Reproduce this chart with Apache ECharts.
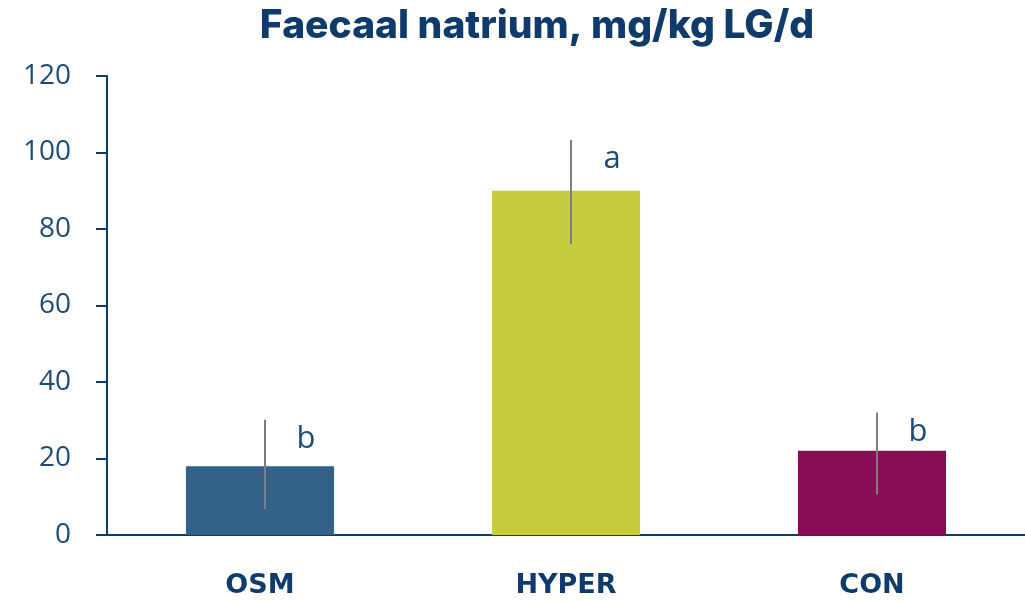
<!DOCTYPE html>
<html>
<head>
<meta charset="utf-8">
<script src="https://cdn.jsdelivr.net/npm/echarts@6/dist/echarts.min.js"></script>
<style>
  html, body { margin: 0; padding: 0; background: #ffffff; }
  #chart { width: 1025px; height: 601px; }
</style>
</head>
<body>
<div id="chart"></div>
<script>
// Faecal sodium per group (mean with error range) and significance letters
const categories = ['OSM', 'HYPER', 'CON'];
const means = [18, 90, 22];
const lower = [6.8, 76.1, 10.6];
const upper = [30.1, 103.3, 32.0];
const letters = ['b', 'a', 'b'];
const barColors = ['#336189', '#c5cc40', '#890d55'];
const yTicks = [0, 20, 40, 60, 80, 100, 120];

const navy = '#0f3b6c';
const chart = echarts.init(document.getElementById('chart'));

chart.setOption({
  animation: false,
  title: {
    text: 'Faecaal natrium, mg/kg LG/d',
    left: 532, top: 2, textAlign: 'center',
    textStyle: { fontFamily: 'Inter', fontWeight: 800, fontSize: 39, color: navy }
  },
  grid: { left: 107, right: 0, top: 76, bottom: 66 },
  xAxis: {
    type: 'category',
    data: categories,
    axisLine: { lineStyle: { color: navy, width: 2 } },
    axisTick: { show: false },
    axisLabel: { margin: 37, fontFamily: 'DejaVu Sans', fontWeight: 'bold', fontSize: 27, color: navy }
  },
  yAxis: {
    type: 'value',
    min: yTicks[0], max: yTicks[yTicks.length - 1], interval: 20,
    axisLine: { show: true, lineStyle: { color: navy, width: 2 } },
    axisTick: { show: true, length: 11, lineStyle: { color: navy, width: 2 } },
    splitLine: { show: false },
    axisLabel: { margin: 36, fontFamily: 'Open Sans', fontSize: 28, color: '#1c4b7a' }
  },
  series: [
    {
      type: 'bar',
      barWidth: '48.4%',
      data: means.map((v, i) => ({ value: v, itemStyle: { color: barColors[i] } }))
    },
    {
      // error bars
      type: 'custom',
      data: categories.map((c, i) => [i, lower[i], upper[i]]),
      renderItem: function (params, api) {
        const lo = api.coord([api.value(0), api.value(1)]);
        const hi = api.coord([api.value(0), api.value(2)]);
        const dx = 5;
        return {
          type: 'line',
          shape: { x1: lo[0] + dx, y1: lo[1], x2: hi[0] + dx, y2: hi[1] },
          style: { stroke: '#7a7f80', lineWidth: 2 }
        };
      },
      z: 5
    },
    {
      // significance letters, placed just right of each error bar's top
      type: 'custom',
      data: categories.map((c, i) => [i, upper[i] - 5, letters[i]]),
      renderItem: function (params, api) {
        const p = api.coord([api.value(0), api.value(1)]);
        return {
          type: 'text',
          x: p[0] + 46, y: p[1],
          style: {
            text: letters[params.dataIndex],
            fontFamily: 'Open Sans', fontSize: 31, fill: '#1c4b7a',
            align: 'center', verticalAlign: 'middle'
          }
        };
      },
      z: 6
    }
  ]
});
</script>
</body>
</html>
